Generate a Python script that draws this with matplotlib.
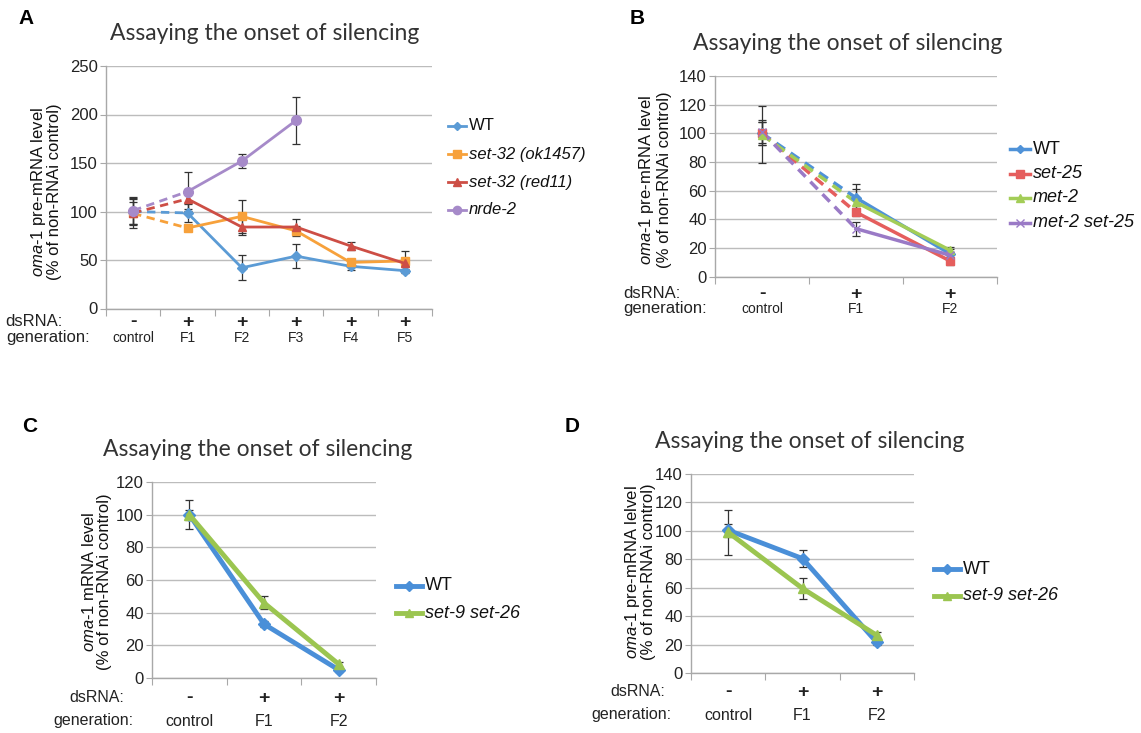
import matplotlib
matplotlib.use('Agg')
import matplotlib.pyplot as plt
import matplotlib.transforms as mtransforms
from matplotlib.lines import Line2D

plt.rcParams['font.family'] = ['Liberation Sans', 'DejaVu Sans']
plt.rcParams['mathtext.fontset'] = 'custom'
plt.rcParams['mathtext.rm'] = 'Liberation Sans'
plt.rcParams['mathtext.it'] = 'Liberation Sans:italic'

W, H = 1141, 733

# ---- panel A ----
a_gen = ['control', 'F1', 'F2', 'F3', 'F4', 'F5']
a_dsrna = ['-', '+', '+', '+', '+', '+']
a_names = ['WT', 'set-32 (ok1457)', 'set-32 (red11)', 'nrde-2']
a_wt = [100, 98.5, 42, 54, 43.5, 39]
a_wt_err = [13, 9, 13, 12, 4, 2]
a_ok = [98, 83, 95, 80, 47.5, 49]
a_ok_err = [12, 3, 17, 5, 3, 10]
a_red = [98.5, 113, 84, 84, 64.5, 46.5]
a_red_err = [15, 10, 8, 8, 4, 3]
a_nrde = [101, 120.5, 152, 194]
a_nrde_err = [14, 20, 7, 24]

# ---- panel B ----
b_gen = ['control', 'F1', 'F2']
b_dsrna = ['-', '+', '+']
b_names = ['WT', 'set-25', 'met-2', 'met-2 set-25']
b_wt = [100, 55, 16]
b_wt_err = [8, 10, 3]
b_set25 = [100, 45, 11]
b_set25_err = [8, 3, 3]
b_met2 = [99, 52, 18.5]
b_met2_err = [20, 9, 2]
b_double = [101, 33.5, 15]
b_double_err = [8, 5, 2]

# ---- panel C ----
c_gen = ['control', 'F1', 'F2']
c_dsrna = ['-', '+', '+']
c_names = ['WT', 'set-9 set-26']
c_wt = [100, 33, 5]
c_wt_err = [9, 2, 1.5]
c_dbl = [100, 46, 8.5]
c_dbl_err = [3, 4, 1.5]

# ---- panel D ----
d_gen = ['control', 'F1', 'F2']
d_dsrna = ['-', '+', '+']
d_names = ['WT', 'set-9 set-26']
d_wt = [100.5, 80.5, 21.5]
d_wt_err = [4.5, 6, 2]
d_dbl = [99, 59.5, 26.5]
d_dbl_err = [16, 7.5, 2]

title = 'Assaying the onset of silencing'

fig = plt.figure(figsize=(W / 100, H / 100), dpi=100)
fig.patch.set_facecolor('white')


def box(l, t, r, b):
    return [l / W, (H - b) / H, (r - l) / W, (b - t) / H]


def fx(x):
    return x / W


def fy(y):
    return (H - y) / H


def style_axes(ax, n, ymax, ystep):
    ax.set_xlim(-0.5, n - 0.5)
    ax.set_ylim(0, ymax)
    ax.set_yticks(range(0, ymax + 1, ystep))
    ax.yaxis.grid(True, color='#bcbcbc', lw=1)
    ax.set_axisbelow(True)
    for s in ['top', 'right']:
        ax.spines[s].set_visible(False)
    for s in ['left', 'bottom']:
        ax.spines[s].set_color('#a8a8a8')
        ax.spines[s].set_linewidth(1)
    ax.set_xticks([i - 0.5 for i in range(n + 1)])
    ax.set_xticklabels([])
    ax.tick_params(axis='x', direction='out', length=5, color='#a8a8a8')
    ax.tick_params(axis='y', direction='out', length=4, color='#a8a8a8',
                   labelsize=12, pad=2, labelcolor='#222222')


def series(ax, y, err, color, marker, lw, ms, dashed=True):
    x = list(range(len(y)))
    ax.errorbar(x, y, yerr=err, fmt='none', ecolor='#333333', elinewidth=0.9,
                capsize=3, capthick=0.9, zorder=4)
    if dashed:
        # control -> F1 is drawn dashed, the rest solid
        ax.plot(x[:2], y[:2], color=color, lw=lw, ls=(0, (3, 2)), zorder=3)
        ax.plot(x[:1], y[:1], color=color, lw=0, marker=marker, ms=ms, zorder=5)
        h, = ax.plot(x[1:], y[1:], color=color, lw=lw, marker=marker, ms=ms, zorder=5)
    else:
        h, = ax.plot(x, y, color=color, lw=lw, marker=marker, ms=ms, zorder=5)
    return h


def xrows(ax, dsrna, gen, y1, y2, x1, x2, fs_lab, fs_cat):
    tr = mtransforms.blended_transform_factory(ax.transData, fig.transFigure)
    for i, (d, g) in enumerate(zip(dsrna, gen)):
        ax.text(i, fy(y1), d, transform=tr, ha='center', va='center',
                fontsize=14, fontweight='bold', color='#222222')
        ax.text(i, fy(y2), g, transform=tr, ha='center', va='center',
                fontsize=fs_cat, color='#222222')
    fig.text(fx(x1), fy(y1), 'dsRNA:', ha='right', va='center', fontsize=fs_lab, color='#222222')
    fig.text(fx(x2), fy(y2), 'generation:', ha='right', va='center', fontsize=fs_lab, color='#222222')


def legend(handles, labels, x, y, gap, fs, hlen, hlw):
    for k, (h, lab) in enumerate(zip(handles, labels)):
        yy = y + k * gap
        fig.add_artist(Line2D([fx(x), fx(x + hlen)], [fy(yy), fy(yy)],
                              transform=fig.transFigure, color=h.get_color(), lw=hlw))
        fig.add_artist(Line2D([fx(x + hlen / 2)], [fy(yy)], transform=fig.transFigure,
                              color=h.get_color(), marker=h.get_marker(),
                              ms=h.get_markersize() * 0.85, lw=0))
        fig.text(fx(x + hlen + 3), fy(yy), lab, ha='left', va='center', fontsize=fs,
                 style='normal' if lab == 'WT' else 'italic', color='#111111')


def ylabel(x1, x2, yc, first):
    fig.text(fx(x1), fy(yc), r'$\mathit{oma}$-$\mathit{1}$' + first, rotation=90,
             ha='center', va='center', fontsize=12, color='#111111')
    fig.text(fx(x2), fy(yc), '(% of non-RNAi control)', rotation=90,
             ha='center', va='center', fontsize=12, color='#111111')


tfont = dict(family=['Lato', 'DejaVu Sans'], fontsize=16.5, color='#333333')

# ---------- A ----------
axA = fig.add_axes(box(106, 66, 432, 308.5))
style_axes(axA, 6, 250, 50)
hA = [series(axA, a_wt, a_wt_err, '#5b9bd5', 'D', 2, 5),
      series(axA, a_ok, a_ok_err, '#f7a13b', 's', 2, 6),
      series(axA, a_red, a_red_err, '#cd4e45', '^', 2, 6),
      series(axA, a_nrde, a_nrde_err, '#a68ac9', 'o', 2, 7)]
legend(hA, a_names, 448, 126, 28, 12, 18, 2)
xrows(axA, a_dsrna, a_gen, 322, 338, 62, 90, 12, 10)
ylabel(39, 55, 192, ' pre-mRNA level')
fig.text(fx(265), fy(33), title, ha='center', va='center', **tfont)
fig.text(fx(18), fy(18), 'A', ha='left', va='center', fontsize=15, fontweight='bold')

# ---------- B ----------
axB = fig.add_axes(box(715, 76, 997, 276.7))
style_axes(axB, 3, 140, 20)
hB = [series(axB, b_wt, b_wt_err, '#4f92d8', 'D', 2.5, 5),
      series(axB, b_set25, b_set25_err, '#e55e5d', 's', 2.5, 6),
      series(axB, b_met2, b_met2_err, '#a3cd57', '^', 2.5, 6),
      series(axB, b_double, b_double_err, '#9a7ac6', 'x', 2.5, 6)]
legend(hB, b_names, 1010, 149, 24.5, 13, 20, 2.5)
xrows(axB, b_dsrna, b_gen, 294, 309, 680, 707, 12, 10)
ylabel(646, 665, 180, ' pre-mRNA level')
fig.text(fx(848), fy(43), title, ha='center', va='center', **tfont)
fig.text(fx(630), fy(18), 'B', ha='left', va='center', fontsize=15, fontweight='bold')

# ---------- C ----------
axC = fig.add_axes(box(152, 482, 376, 678))
style_axes(axC, 3, 120, 20)
hC = [series(axC, c_wt, c_wt_err, '#4a8fd8', 'D', 3.5, 6, dashed=False),
      series(axC, c_dbl, c_dbl_err, '#9bc550', '^', 3.5, 7, dashed=False)]
legend(hC, c_names, 396, 586, 27, 13, 26, 3.5)
xrows(axC, c_dsrna, c_gen, 698, 721, 124, 133, 11.5, 11.5)
ylabel(89, 105, 582, ' mRNA level')
fig.text(fx(258), fy(450), title, ha='center', va='center', **tfont)
fig.text(fx(22), fy(427), 'C', ha='left', va='center', fontsize=15, fontweight='bold')

# ---------- D ----------
axD = fig.add_axes(box(691, 474, 914, 673))
style_axes(axD, 3, 140, 20)
hD = [series(axD, d_wt, d_wt_err, '#4a8fd8', 'D', 3.5, 6, dashed=False),
      series(axD, d_dbl, d_dbl_err, '#9bc550', '^', 3.5, 7, dashed=False)]
legend(hD, d_names, 934, 569, 27, 13, 26, 3.5)
xrows(axD, d_dsrna, d_gen, 692, 715, 665, 672, 11.5, 11.5)
ylabel(632, 648, 572, ' pre-mRNA lelvel')
fig.text(fx(810), fy(442), title, ha='center', va='center', **tfont)
fig.text(fx(565), fy(427), 'D', ha='left', va='center', fontsize=15, fontweight='bold')

fig.savefig('out.png', dpi=100)
